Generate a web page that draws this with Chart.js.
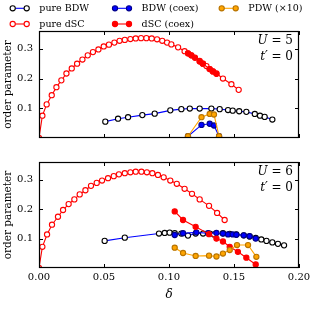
<!DOCTYPE html>
<html><head><meta charset="utf-8">
<script src="https://cdn.jsdelivr.net/npm/chart.js@4/dist/chart.umd.min.js"></script>
<style>
html,body{margin:0;padding:0;background:#fff;}
#wrap{position:relative;width:315px;height:315px;}
#c1{position:absolute;left:0;top:0;}
#c2{position:absolute;left:0;top:150px;}
</style></head>
<body><div id="wrap"><canvas id="c1" width="315" height="150"></canvas><canvas id="c2" width="315" height="165"></canvas></div>
<script>
// ---- axis ticks ----
const deltaTicks = [0, 0.05, 0.10, 0.15, 0.20];
const orderTicks = [0.1, 0.2, 0.3];
const seriesNames = ["pure BDW", "BDW (coex)", "PDW (\u00d710)", "pure dSC", "dSC (coex)"];

// ---- U = 5 panel ----
const u5_pureBDW_x = [0.051,0.0608,0.0685,0.0795,0.089,0.101,0.1095,0.116,0.1236,0.1326,0.139,0.1454,0.149,0.154,0.1595,0.166,0.170,0.1736,0.1795];
const u5_pureBDW_y = [0.055,0.065,0.070,0.077,0.082,0.093,0.097,0.099,0.099,0.099,0.097,0.094,0.092,0.090,0.088,0.081,0.075,0.071,0.062];
const u5_pureDSC_x = [0,0.0026,0.0059,0.0098,0.0134,0.0172,0.0211,0.0252,0.0293,0.0334,0.0375,0.0415,0.0457,0.0498,0.0538,0.058,0.062,0.066,0.0703,0.0744,0.0785,0.0826,0.0867,0.0908,0.0948,0.0985,0.1018,0.107,0.112,0.1146,0.1172,0.1236,0.1262,0.1288,0.1313,0.1338,0.1365,0.1415,0.148,0.1536];
const u5_pureDSC_y = [0,0.075,0.113,0.144,0.171,0.194,0.217,0.234,0.250,0.264,0.278,0.289,0.298,0.308,0.314,0.321,0.327,0.330,0.333,0.335,0.336,0.336,0.335,0.332,0.327,0.321,0.315,0.305,0.292,0.285,0.278,0.259,0.250,0.242,0.232,0.224,0.217,0.200,0.181,0.162];
const u5_coexBDW_x = [0.1146,0.125,0.1313,0.1346,0.1385];
const u5_coexBDW_y = [0.006,0.044,0.048,0.042,0.006];
const u5_coexDSC_x = [0.1146,0.1172,0.120,0.1236,0.126,0.1313,0.1338,0.1365];
const u5_coexDSC_y = [0.285,0.278,0.270,0.257,0.250,0.232,0.224,0.216];
const u5_PDW_x = [0.1146,0.125,0.1313,0.1346,0.1385];
const u5_PDW_y = [0.006,0.070,0.081,0.079,0.006];

// ---- U = 6 panel ----
const u6_pureBDW_x = [0.0505,0.066,0.0923,0.0967,0.1005,0.1044,0.1095,0.1146,0.1205,0.1262,0.1313,0.1346,0.1415,0.1467,0.1518,0.1575,0.162,0.1667,0.171,0.175,0.1795,0.1838,0.1885];
const u6_pureBDW_y = [0.092,0.103,0.117,0.119,0.120,0.118,0.117,0.110,0.117,0.117,0.117,0.114,0.118,0.116,0.114,0.111,0.107,0.102,0.097,0.092,0.087,0.082,0.077];
const u6_pureDSC_x = [0,0.0026,0.0062,0.010,0.0146,0.0185,0.0228,0.0272,0.0313,0.0357,0.040,0.0444,0.0485,0.0531,0.0575,0.0615,0.066,0.0703,0.0744,0.0788,0.083,0.0872,0.0915,0.0959,0.101,0.106,0.112,0.1177,0.1236,0.1308,0.137,0.1428];
const u6_pureDSC_y = [0,0.072,0.114,0.147,0.174,0.197,0.217,0.233,0.250,0.264,0.279,0.289,0.297,0.305,0.312,0.318,0.322,0.325,0.327,0.327,0.325,0.322,0.316,0.308,0.297,0.286,0.269,0.252,0.233,0.211,0.187,0.163];
const u6_coexBDW_x = [0.1044,0.1108,0.121,0.130,0.1365,0.1415,0.1454,0.149,0.1518,0.1575,0.162,0.1667];
const u6_coexBDW_y = [0.112,0.118,0.121,0.118,0.119,0.117,0.114,0.114,0.113,0.111,0.108,0.100];
const u6_coexDSC_x = [0.1044,0.1108,0.1205,0.1308,0.1365,0.1415,0.1467,0.153,0.1595,0.1667];
const u6_coexDSC_y = [0.192,0.163,0.140,0.115,0.100,0.090,0.072,0.055,0.035,0.012];
const u6_PDW_x = [0.1044,0.1108,0.1205,0.1308,0.1365,0.1415,0.1467,0.1523,0.1608,0.1672];
const u6_PDW_y = [0.069,0.051,0.041,0.042,0.039,0.049,0.061,0.078,0.078,0.038];

const pts = (xs, ys) => xs.map((x, i) => ({x: x, y: ys[i]}));

const FONT = "'DejaVu Serif', serif";
const STYLE = {
  pureBDW: {line:'#0000ff', edge:'#000000', fill:'#ffffff', order:5},
  coexBDW: {line:'#0000ff', edge:'#00008b', fill:'#0000ff', order:3},
  PDW:     {line:'#ffa500', edge:'#b87400', fill:'#ffa500', order:1},
  pureDSC: {line:'#ff0000', edge:'#ff0000', fill:'#ffffff', order:4},
  coexDSC: {line:'#ff0000', edge:'#ff0000', fill:'#ff0000', order:2}
};

function ds(label, data, st) {
  return {label: label, data: data, borderColor: st.line, backgroundColor: st.line,
    pointBorderColor: st.edge, pointBackgroundColor: st.fill, pointRadius: 2.6,
    pointBorderWidth: 1.1, borderWidth: 1.1, pointHoverRadius: 2.6, showLine: true,
    tension: 0, order: st.order, clip: 0};
}

function panelPlugin(uVal, showLegend) {
  return {
    id: 'panel' + uVal,
    afterDatasetsDraw(chart) {
      const ctx = chart.ctx, a = chart.chartArea, xs = chart.scales.x, ys = chart.scales.y;
      ctx.save();
      ctx.strokeStyle = '#000'; ctx.lineWidth = 1;
      ctx.beginPath();
      deltaTicks.forEach(v => {
        const px = Math.round(xs.getPixelForValue(v)) + 0.5;
        ctx.moveTo(px, a.bottom); ctx.lineTo(px, a.bottom - 4);
        ctx.moveTo(px, a.top); ctx.lineTo(px, a.top + 4);
      });
      orderTicks.forEach(v => {
        const py = Math.round(ys.getPixelForValue(v)) + 0.5;
        ctx.moveTo(a.left, py); ctx.lineTo(a.left + 4, py);
        ctx.moveTo(a.right, py); ctx.lineTo(a.right - 4, py);
      });
      ctx.stroke();
      ctx.lineWidth = 1.2;
      ctx.strokeRect(Math.round(a.left) + 0.5, Math.round(a.top) + 0.5, Math.round(a.right - a.left) - 1, Math.round(a.bottom - a.top) - 1);
      // annotation
      ctx.fillStyle = '#000'; ctx.textBaseline = 'alphabetic'; ctx.textAlign = 'left';
      const rx = a.right - 6;
      const it = "italic 12px " + FONT, nm = "12px " + FONT;
      ctx.font = nm; const r1 = " = " + uVal; const w1 = ctx.measureText(r1).width;
      ctx.font = it; const wU = ctx.measureText("U").width;
      ctx.fillText("U", rx - w1 - wU, a.top + 13);
      ctx.font = nm; ctx.fillText(r1, rx - w1, a.top + 13);
      const r2 = " = 0"; const w2 = ctx.measureText(r2).width;
      ctx.font = it; const wt = ctx.measureText("t\u2032").width;
      ctx.fillText("t\u2032", rx - w2 - wt, a.top + 29);
      ctx.font = nm; ctx.fillText(r2, rx - w2, a.top + 29);
      if (showLegend) drawLegend(ctx);
      ctx.restore();
    }
  };
}

function drawLegend(ctx) {
  const items = [
    {st: STYLE.pureBDW, x: 12.7, y: 8.3, name: seriesNames[0]},
    {st: STYLE.coexBDW, x: 115, y: 8.3, name: seriesNames[1]},
    {st: STYLE.PDW, x: 221.7, y: 8.3, name: seriesNames[2]},
    {st: STYLE.pureDSC, x: 12.7, y: 24, name: seriesNames[3]},
    {st: STYLE.coexDSC, x: 115, y: 24, name: seriesNames[4]}
  ];
  items.forEach(it => {
    ctx.strokeStyle = it.st.line; ctx.lineWidth = 1.1;
    ctx.beginPath(); ctx.moveTo(it.x, it.y); ctx.lineTo(it.x + 14, it.y); ctx.stroke();
    [it.x, it.x + 14].forEach(mx => {
      ctx.beginPath(); ctx.arc(mx, it.y, 2.6, 0, Math.PI * 2);
      ctx.fillStyle = it.st.fill; ctx.fill();
      ctx.strokeStyle = it.st.edge; ctx.stroke();
    });
    ctx.fillStyle = '#000'; ctx.font = "9.5px " + FONT; ctx.textBaseline = 'middle';
    ctx.fillText(it.name, it.x + 26.6, it.y + 0.5);
  });
}

function makeChart(id, d, uVal, isTop) {
  return new Chart(document.getElementById(id), {
    type: 'scatter',
    data: {datasets: [
      ds(seriesNames[0], pts(d.pBx, d.pBy), STYLE.pureBDW),
      ds(seriesNames[3], pts(d.pDx, d.pDy), STYLE.pureDSC),
      ds(seriesNames[1], pts(d.cBx, d.cBy), STYLE.coexBDW),
      ds(seriesNames[4], pts(d.cDx, d.cDy), STYLE.coexDSC),
      ds(seriesNames[2], pts(d.Px, d.Py), STYLE.PDW)
    ]},
    options: {
      responsive: false, animation: false, devicePixelRatio: 1,
      layout: {padding: {left: 0, right: 16, top: isTop ? 31 : 11, bottom: isTop ? 0 : 13}},
      plugins: {legend: {display: false}, tooltip: {enabled: false}},
      scales: {
        x: {type: 'linear', min: 0, max: 0.2,
          grid: {display: false, drawTicks: false}, border: {display: false},
          afterBuildTicks: s => { s.ticks = deltaTicks.map(v => ({value: v})); },
          ticks: {display: !isTop, padding: 3, color: '#000', font: {family: FONT, size: 10},
            callback: v => Number(v).toFixed(2), maxRotation: 0},
          title: {display: !isTop, text: '\u03b4', color: '#000', padding: {top: 2, bottom: 0},
            font: {family: FONT, size: 12, style: 'italic'}},
          afterFit: s => { s.height = isTop ? 12 : 34; }
        },
        y: {type: 'linear', min: 0, max: 0.36,
          grid: {display: false, drawTicks: false}, border: {display: false},
          afterBuildTicks: s => { s.ticks = orderTicks.map(v => ({value: v})); },
          ticks: {padding: 6, color: '#000', font: {family: FONT, size: 10}, callback: v => Number(v).toFixed(1)},
          title: {display: true, text: 'order parameter', color: '#000', padding: {top: 2, bottom: 0},
            font: {family: FONT, size: 10.5}},
          afterFit: s => { s.width = 39; }
        }
      }
    },
    plugins: [panelPlugin(uVal, isTop)]
  });
}

makeChart('c1', {pBx:u5_pureBDW_x,pBy:u5_pureBDW_y,pDx:u5_pureDSC_x,pDy:u5_pureDSC_y,cBx:u5_coexBDW_x,cBy:u5_coexBDW_y,cDx:u5_coexDSC_x,cDy:u5_coexDSC_y,Px:u5_PDW_x,Py:u5_PDW_y}, 5, true);
makeChart('c2', {pBx:u6_pureBDW_x,pBy:u6_pureBDW_y,pDx:u6_pureDSC_x,pDy:u6_pureDSC_y,cBx:u6_coexBDW_x,cBy:u6_coexBDW_y,cDx:u6_coexDSC_x,cDy:u6_coexDSC_y,Px:u6_PDW_x,Py:u6_PDW_y}, 6, false);
</script></body></html>
